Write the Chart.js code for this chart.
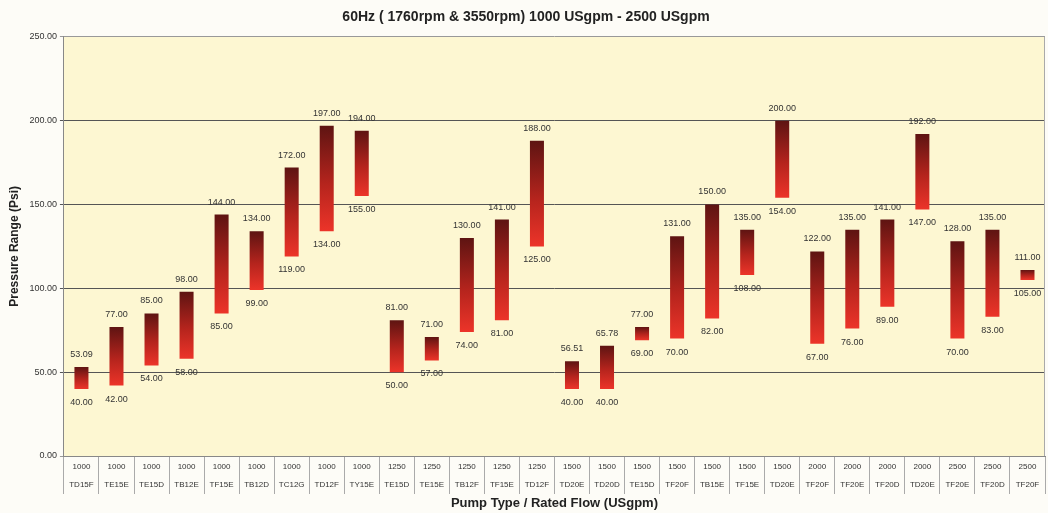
<!DOCTYPE html>
<html>
<head>
<meta charset="utf-8">
<script src="https://cdn.jsdelivr.net/npm/chart.js@4.4.1/dist/chart.umd.min.js"></script>
<style>
  html, body { margin: 0; padding: 0; background: #fdfcf7; }
  #wrap { width: 1048px; height: 513px; }
</style>
</head>
<body>
<div id="wrap"><canvas id="chart" width="1048" height="513"></canvas></div>
<script>
// Rated flow and pump type for each bar
const flows = ['1000','1000','1000','1000','1000','1000','1000','1000','1000',
  '1250','1250','1250','1250','1250',
  '1500','1500','1500','1500','1500','1500','1500',
  '2000','2000','2000','2000',
  '2500','2500','2500'];
const pumps = ['TD15F','TE15E','TE15D','TB12E','TF15E','TB12D','TC12G','TD12F','TY15E',
  'TE15D','TE15E','TB12F','TF15E','TD12F',
  'TD20E','TD20D','TE15D','TF20F','TB15E','TF15E','TD20E',
  'TF20F','TF20E','TF20D','TD20E',
  'TF20E','TF20D','TF20F'];

// Pressure range (Psi)
const lowPsi = [40, 42, 54, 58, 85, 99, 119, 134, 155,
  50, 57, 74, 81, 125,
  40, 40, 69, 70, 82, 108, 154,
  67, 76, 89, 147,
  70, 83, 105];
const highPsi = [53.09, 77, 85, 98, 144, 134, 172, 197, 194,
  81, 71, 130, 141, 188,
  56.51, 65.78, 77, 131, 150, 135, 200,
  122, 135, 141, 192,
  128, 135, 111];

const yTicks = [0, 50, 100, 150, 200, 250];

const labels = flows.map((f, i) => [f, pumps[i]]);
const ranges = lowPsi.map((lo, i) => [lo, highPsi[i]]);

// Dark-to-bright red gradient for each floating bar
function barGradient(context) {
  const chart = context.chart;
  const y = chart.scales.y;
  if (!chart.chartArea || !y || context.dataIndex === undefined) return '#c0281f';
  const top = y.getPixelForValue(highPsi[context.dataIndex]);
  const bottom = y.getPixelForValue(lowPsi[context.dataIndex]);
  if (!isFinite(top) || !isFinite(bottom)) return '#c0281f';
  const g = chart.ctx.createLinearGradient(0, top, 0, bottom);
  g.addColorStop(0, '#5e1412');
  g.addColorStop(0.55, '#b5241d');
  g.addColorStop(1, '#ec3429');
  return g;
}

// Plot area background and right border
const plotBackground = {
  id: 'plotBackground',
  beforeDraw(chart) {
    const { ctx, chartArea } = chart;
    ctx.save();
    ctx.fillStyle = '#fdf7d2';
    ctx.fillRect(chartArea.left, chartArea.top, chartArea.right - chartArea.left, chartArea.bottom - chartArea.top);
    ctx.restore();
  },
  afterDraw(chart) {
    const { ctx, chartArea } = chart;
    ctx.save();
    ctx.strokeStyle = '#aaa';
    ctx.lineWidth = 1;
    ctx.beginPath();
    ctx.moveTo(chartArea.right - 0.5, chartArea.top);
    ctx.lineTo(chartArea.right - 0.5, chartArea.bottom);
    ctx.stroke();
    ctx.restore();
  }
};

// Value labels above and below each bar
const valueLabels = {
  id: 'valueLabels',
  afterDatasetsDraw(chart) {
    const { ctx } = chart;
    const meta = chart.getDatasetMeta(0);
    ctx.save();
    ctx.font = '9px "Liberation Sans", Arial, sans-serif';
    ctx.fillStyle = '#333';
    ctx.textAlign = 'center';
    meta.data.forEach((bar, i) => {
      ctx.textBaseline = 'bottom';
      ctx.fillText(highPsi[i].toFixed(2), bar.x, bar.y - 8);
      ctx.textBaseline = 'top';
      ctx.fillText(lowPsi[i].toFixed(2), bar.x, bar.base + 9);
    });
    ctx.restore();
  }
};

new Chart(document.getElementById('chart'), {
  type: 'bar',
  data: {
    labels: labels,
    datasets: [{
      data: ranges,
      backgroundColor: barGradient,
      borderWidth: 0,
      barPercentage: 0.4,
      categoryPercentage: 1
    }]
  },
  options: {
    responsive: false,
    animation: false,
    layout: { padding: { left: 7, right: 3, top: 0, bottom: 2 } },
    plugins: {
      legend: { display: false },
      tooltip: { enabled: false },
      title: {
        display: true,
        text: '60Hz ( 1760rpm & 3550rpm) 1000 USgpm - 2500 USgpm',
        color: '#222',
        font: { family: '"Liberation Sans Narrow", "Liberation Sans", Arial, sans-serif', size: 14, weight: 'bold' },
        padding: { top: 9, bottom: 11 }
      }
    },
    scales: {
      x: {
        afterFit(scale) { scale.height = 55; },
        grid: {
          offset: true,
          drawOnChartArea: false,
          tickLength: 38,
          color: '#aaa'
        },
        border: { color: '#888' },
        ticks: {
          color: '#333',
          font: { family: '"Liberation Sans", Arial, sans-serif', size: 8, lineHeight: 2.2 },
          padding: -36,
          maxRotation: 0,
          autoSkip: false
        },
        title: {
          display: true,
          text: 'Pump Type / Rated Flow (USgpm)',
          color: '#222',
          font: { family: '"Liberation Sans", Arial, sans-serif', size: 13, weight: 'bold' },
          padding: { top: 0, bottom: 0 }
        }
      },
      y: {
        min: 0,
        max: 250,
        afterBuildTicks(scale) {
          scale.ticks = yTicks.map(v => ({ value: v }));
        },
        grid: {
          color: (c) => (c.tick && (c.tick.value === 0 || c.tick.value === 250)) ? '#999' : '#555',
          tickLength: 4
        },
        border: { color: '#888' },
        ticks: {
          color: '#333',
          font: { family: '"Liberation Sans", Arial, sans-serif', size: 9 },
          padding: 3,
          callback: (v) => Number(v).toFixed(2)
        },
        title: {
          display: true,
          text: 'Pressure Range (Psi)',
          color: '#222',
          font: { family: '"Liberation Sans", Arial, sans-serif', size: 12, weight: 'bold' },
          padding: { top: 0, bottom: 5 }
        }
      }
    }
  },
  plugins: [plotBackground, valueLabels]
});
</script>
</body>
</html>
